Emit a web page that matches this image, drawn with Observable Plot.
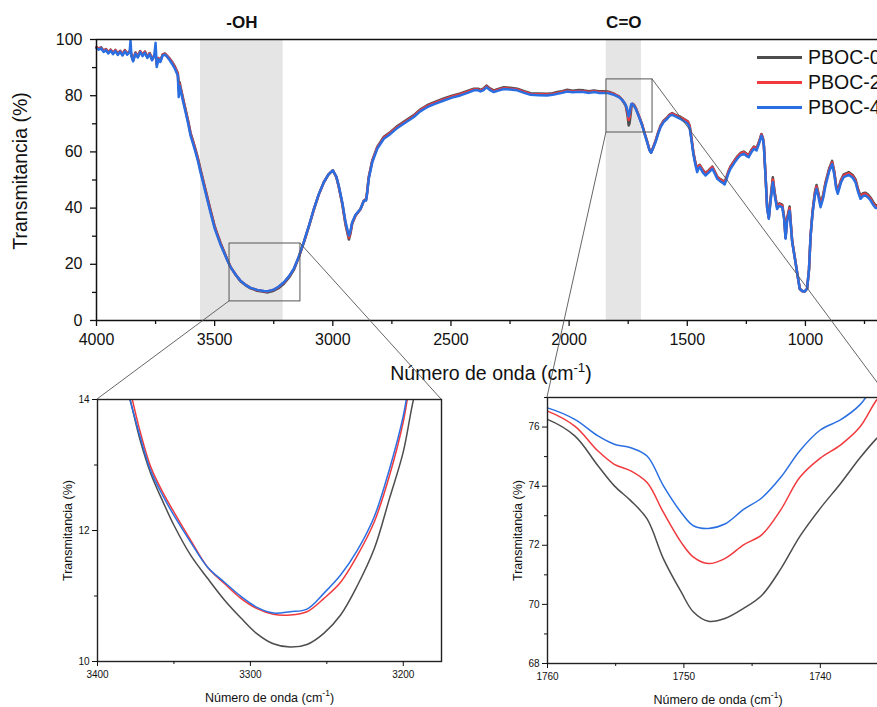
<!DOCTYPE html>
<html>
<head>
<meta charset="utf-8">
<script src="https://cdn.jsdelivr.net/npm/d3@7"></script>
<script src="https://cdn.jsdelivr.net/npm/@observablehq/plot@0.6"></script>
<style>
html, body { margin: 0; padding: 0; background: #fff; overflow: hidden; }
#wrap { position: relative; width: 877px; height: 707px; overflow: hidden; background: #fff;
  font-family: "Liberation Sans", Arial, sans-serif; }
#wrap > .abs { position: absolute; }
.legend { position: absolute; left: 757px; top: 45px; white-space: nowrap; font-size: 19.5px; color: #111; }
.legend .row { display: flex; align-items: center; height: 25px; }
.legend .sw { width: 45px; height: 3px; margin-right: 6px; }
</style>
</head>
<body>
<div id="wrap"></div>
<script>
// ---------------- DATA ----------------
const seriesNames = ["PBOC-0", "PBOC-2", "PBOC-4"];
const seriesColors = ["#4d4d4d", "#f03a3e", "#2a6fe2"];

const wavenumbers = [4000,3990,3980,3970,3960,3950,3940,3930,3920,3910,3900,3890,3880,3870,3860,3856,3852,3845,3835,3825,3815,3805,3795,3785,3775,3765,3756,3750,3745,3738,3730,3720,3710,3700,3690,3680,3668,3656,3652,3648,3645,3635,3623,3612,3602,3590,3581,3570,3560,3539,3518,3500,3489,3475,3461,3447,3433,3410,3391,3370,3348,3320,3292,3275,3250,3230,3207,3185,3165,3145,3123,3100,3080,3060,3038,3018,3000,2985,2975,2960,2946,2932,2925,2918,2904,2883,2869,2859,2855,2848,2833,2812,2784,2756,2730,2700,2657,2630,2601,2565,2530,2495,2460,2430,2403,2385,2375,2362,2350,2335,2319,2300,2276,2250,2220,2190,2163,2130,2093,2070,2050,2030,2008,1985,1960,1938,1915,1895,1875,1853,1840,1825,1808,1790,1778,1768,1760,1752,1748,1744,1740,1736,1731,1726,1718,1712,1700,1691,1680,1670,1660,1653,1645,1634,1623,1613,1600,1585,1575,1564,1550,1540,1529,1515,1498,1490,1482,1474,1465,1458,1452,1447,1435,1423,1410,1394,1384,1373,1360,1350,1342,1335,1325,1317,1300,1289,1275,1261,1250,1240,1228,1218,1207,1196,1186,1180,1176,1168,1162,1155,1148,1138,1130,1120,1110,1098,1090,1084,1078,1067,1062,1056,1042,1035,1024,1014,1004,993,985,978,970,960,953,945,936,925,915,900,887,878,870,863,850,838,816,800,788,778,767,756,746,735,724,712,703,695];

const pboc4 = [96.9,96.4,96.8,95.6,96.2,95.0,96.0,94.8,95.9,94.5,95.6,94.3,95.8,94.6,95.4,99.6,94.0,92.2,95.0,93.6,95.5,94.1,95.3,93.4,94.8,92.6,94.0,98.8,90.2,93.0,92.0,94.3,94.6,93.7,92.6,91.3,89.5,87.2,79.5,83.5,82.4,78.5,74.1,70.0,65.8,62.5,59.9,56.5,52.8,45.7,38.5,32.8,30.2,27.0,24.3,21.5,19.0,16.2,14.2,12.7,11.6,10.9,10.5,10.4,11.0,12.0,13.6,15.8,18.4,22.5,27.9,34.0,39.7,44.8,49.2,52.0,53.4,51.2,48.0,42.1,35.0,30.2,32.0,35.0,37.6,39.7,42.5,42.7,45.0,50.4,56.3,61.1,64.7,66.4,68.3,70.0,72.4,74.4,75.9,77.2,78.3,79.3,80.1,81.0,81.9,81.9,81.5,82.0,83.0,82.0,81.3,81.8,82.4,82.2,81.9,81.0,80.3,80.2,80.1,80.3,80.7,81.0,81.5,81.2,81.4,81.3,81.0,81.3,81.0,81.0,81.0,80.7,80.2,79.5,78.7,77.7,76.65,74.5,72.6,73.7,76.0,77.1,77.0,76.5,75.3,74.1,71.5,69.4,66.2,63.5,60.6,59.7,61.2,63.5,66.5,68.8,70.6,71.8,72.8,73.2,72.6,72.2,71.8,71.0,70.0,68.5,64.0,59.0,55.2,52.8,54.2,54.6,52.8,51.6,52.6,54.0,52.3,50.4,49.5,49.0,48.4,50.0,52.5,54.0,56.2,57.5,58.8,59.3,58.6,58.1,60.0,61.1,60.5,63.0,65.8,64.5,62.3,50.0,40.0,36.2,42.0,49.2,44.5,39.7,40.8,40.3,36.0,29.1,35.0,39.1,34.0,27.9,20.7,17.0,11.3,10.5,10.3,11.3,18.0,30.2,38.0,44.5,46.9,44.0,40.3,43.5,48.0,53.0,55.7,52.0,47.0,45.1,49.0,51.0,51.8,50.8,49.2,46.0,43.3,44.3,44.5,43.8,42.7,41.0,40.0,40.0];

const pboc2 = [97.2,96.7,97.0,95.9,96.5,95.3,96.3,95.1,96.2,94.8,95.9,94.6,96.1,94.9,95.7,96.0,94.3,92.5,95.3,93.9,95.8,94.4,95.6,93.7,95.1,92.9,94.3,95.0,91.0,93.3,92.3,94.6,94.9,94.0,93.0,91.8,90.0,87.8,82.0,84.2,83.0,79.1,74.7,70.6,66.4,63.1,60.5,57.1,53.4,46.3,39.1,33.3,30.6,27.3,24.5,21.7,19.1,16.2,14.2,12.75,11.6,10.85,10.45,10.35,10.95,11.9,13.5,15.7,18.3,22.4,27.8,33.9,39.6,44.7,49.2,52.0,53.4,51.1,47.8,41.8,34.5,29.5,31.5,34.7,37.4,39.6,42.5,43.0,45.3,50.8,56.7,61.5,65.1,66.8,68.7,70.4,72.8,74.8,76.3,77.6,78.7,79.7,80.5,81.4,82.2,82.2,81.8,82.3,83.3,82.3,81.6,82.1,82.7,82.5,82.2,81.3,80.6,80.5,80.4,80.6,81.0,81.3,81.8,81.5,81.7,81.6,81.3,81.6,81.3,81.3,81.3,81.0,80.5,79.7,78.8,77.7,76.54,73.6,71.4,72.5,75.1,76.9,77.1,76.7,75.5,74.3,71.7,69.6,66.4,63.7,60.7,59.8,61.4,63.8,66.8,69.1,70.9,72.1,73.1,73.6,73.0,72.6,72.3,71.6,70.7,69.2,64.6,59.6,55.8,53.6,54.9,55.2,53.5,52.3,53.2,54.6,52.9,51.0,50.1,49.6,49.1,50.6,53.1,54.6,56.8,58.1,59.4,59.9,59.2,58.7,60.6,61.7,61.1,63.5,66.2,64.8,62.5,50.2,40.2,36.5,42.6,50.2,45.2,40.3,41.4,40.9,36.5,29.4,35.8,40.0,34.5,28.2,20.8,17.0,11.3,10.5,10.3,11.3,18.0,30.3,38.4,45.2,47.6,44.8,41.1,44.2,48.7,53.6,56.3,52.7,47.7,45.8,49.6,51.6,52.4,51.4,49.8,46.6,43.9,44.9,45.1,44.4,43.3,41.6,40.6,40.6];

const pboc0 = [97.3,96.8,97.2,96.0,96.6,95.4,96.4,95.2,96.3,94.9,96.0,94.7,96.2,95.0,95.8,96.0,94.4,92.6,95.4,94.0,95.9,94.5,95.7,93.8,95.2,93.0,94.4,95.0,91.2,93.4,92.4,94.7,95.0,94.1,93.2,92.0,90.3,88.1,84.5,84.8,83.4,79.5,75.1,71.0,66.8,63.5,60.9,57.5,53.8,46.7,39.5,33.6,30.9,27.6,24.7,21.8,19.1,16.1,14.0,12.6,11.45,10.6,10.2,10.0,10.6,11.5,13.1,15.3,18.0,22.2,27.6,33.8,39.5,44.7,49.2,52.0,53.4,51.0,47.6,41.4,34.0,28.8,31.0,34.4,37.3,39.6,42.6,43.3,45.6,51.1,57.0,61.8,65.4,67.1,69.0,70.7,73.1,75.1,76.6,77.9,79.0,80.0,80.8,81.7,82.5,82.5,82.1,82.6,83.6,82.6,81.9,82.4,83.0,82.8,82.5,81.6,80.9,80.8,80.7,80.9,81.3,81.6,82.1,81.8,82.0,81.9,81.6,81.9,81.6,81.6,81.5,81.2,80.6,79.8,78.8,77.5,76.26,72.5,69.4,70.3,73.1,76.3,77.1,76.8,75.6,74.4,71.8,69.7,66.5,63.8,60.8,59.8,61.5,64.0,67.0,69.3,71.1,72.3,73.3,73.8,73.2,72.8,72.5,71.8,70.9,69.4,64.8,59.8,56.0,53.8,55.1,55.4,53.7,52.5,53.4,54.8,53.1,51.2,50.3,49.8,49.3,50.8,53.3,54.8,57.0,58.3,59.6,60.1,59.4,58.9,60.8,61.9,61.3,63.7,66.4,65.0,62.6,50.3,40.3,36.7,43.0,51.0,45.6,40.6,41.7,41.2,36.7,29.5,36.3,40.6,34.8,28.3,20.8,17.0,11.3,10.5,10.3,11.3,18.0,30.4,38.7,45.7,48.2,45.4,41.7,44.7,49.2,54.0,56.8,53.1,48.1,46.2,50.0,52.0,52.8,51.8,50.2,47.0,44.3,45.3,45.5,44.8,43.7,42.0,41.0,41.0];

// shaded bands and zoom boxes (cm-1 / %)
const bandFrom = [3560, 1843];
const bandTo = [3210, 1694];
const bandLabels = ["-OH", "C=O"];
const boxX1 = [3437, 1842];
const boxX2 = [3137, 1647];
const boxY1 = [6.8, 66.9];
const boxY2 = [27.4, 85.8];

// main axes ticks
const mainMajorX = [4000, 3500, 3000, 2500, 2000, 1500, 1000];
const mainMinorX = [3750, 3250, 2750, 2250, 1750, 1250, 750];
const mainMajorY = [0, 20, 40, 60, 80, 100];
const mainMinorY = [10, 30, 50, 70, 90];

// -OH inset
const ohWavenumbers = [3385,3380,3372,3365,3357,3350,3339,3328,3317,3306,3296,3285,3274,3263,3252,3241,3230,3219,3209,3200,3193,3188];
const ohPboc0 = [14.5,14.12,13.37,12.86,12.43,12.08,11.62,11.27,10.94,10.66,10.43,10.27,10.22,10.26,10.43,10.71,11.16,11.72,12.49,13.20,14.03,14.4];
const ohPboc2 = [14.6,14.25,13.5,12.96,12.57,12.28,11.85,11.44,11.19,10.96,10.81,10.72,10.71,10.76,10.96,11.21,11.62,12.13,12.84,13.66,14.6,15.0];
const ohPboc4 = [14.5,14.1,13.42,12.9,12.52,12.23,11.82,11.44,11.21,10.99,10.83,10.74,10.76,10.80,11.04,11.32,11.70,12.21,12.94,13.75,14.7,15.1];
const ohMajorX = [3400, 3300, 3200];
const ohMinorX = [3350, 3250];
const ohMajorY = [10, 12, 14];
const ohMinorY = [11, 13];

// C=O inset
const coWavenumbers = [1760.5,1760,1758,1756.3,1755.1,1753.9,1752.7,1751.5,1750.2,1749.3,1748.2,1747,1745.6,1744.3,1742.9,1741.5,1740,1738.5,1737.1,1735.9,1735];
const coPboc0 = [76.32,76.26,75.70,74.69,74.01,73.51,72.89,71.54,70.42,69.74,69.43,69.52,69.87,70.3,71.2,72.3,73.25,74.1,74.95,75.6,76.0];
const coPboc2 = [76.6,76.54,76.03,75.19,74.74,74.52,74.12,73.11,72.10,71.60,71.38,71.55,72.02,72.35,73.2,74.3,74.95,75.4,76.0,76.9,77.4];
const coPboc4 = [76.7,76.65,76.26,75.70,75.42,75.30,75.02,74.01,73.11,72.66,72.57,72.72,73.22,73.6,74.3,75.2,75.9,76.25,76.75,77.5,78.0];
const coMajorX = [1760, 1750, 1740];
const coMinorX = [1755, 1745];
const coMajorY = [68, 70, 72, 74, 76];
const coMinorY = [69, 71, 73, 75, 77];

const xTitle = "Número de onda (cm-1)";
const yTitle = "Transmitancia (%)";

// ---------------- BUILD ----------------
const FONT = '"Liberation Sans", Arial, sans-serif';
const wrap = document.getElementById("wrap");
const fmt = d => `${d}`;

function long(xs, cols) {
  return cols.flatMap((vals, k) => xs.map((w, i) => ({w, t: vals[i], name: seriesNames[k]})));
}
function superscript(svg, fs) {
  svg.querySelectorAll("text").forEach(t => {
    if (t.textContent === xTitle) {
      const up = (fs * 0.42).toFixed(1);
      t.innerHTML = `Número de onda (cm<tspan dy="-${up}" font-size="${(fs*0.68).toFixed(1)}">-1</tspan><tspan dy="${up}">)</tspan>`;
    }
  });
}

const mainData = long(wavenumbers, [pboc0, pboc2, pboc4]);
const bands = bandFrom.map((f, i) => ({from: f, to: bandTo[i], label: bandLabels[i]}));
const boxes = boxX1.map((x, i) => ({x1: x, x2: boxX2[i], y1: boxY1[i], y2: boxY2[i]}));

const main = Plot.plot({
  width: 877, height: 390,
  marginLeft: 96, marginRight: 0, marginTop: 39, marginBottom: 70,
  style: {fontFamily: FONT, fontSize: "16px", color: "#111", background: "transparent", overflow: "visible"},
  x: {domain: [4000, 695], label: null},
  y: {domain: [0, 100], label: null},
  color: {domain: seriesNames, range: seriesColors},
  marks: [
    Plot.rect(bands, {x1: "from", x2: "to", fill: "#e5e5e5"}),
    Plot.line(mainData, {x: "w", y: "t", z: "name", stroke: "name", strokeWidth: 2.5, strokeLinejoin: "round"}),
    Plot.rect(boxes, {x1: "x1", x2: "x2", y1: "y1", y2: "y2", fill: "none", stroke: "#555", strokeWidth: 1}),
    Plot.ruleY([0, 100], {stroke: "#111", strokeWidth: 1.5}),
    Plot.ruleX([4000], {stroke: "#111", strokeWidth: 1.5}),
    Plot.axisX({ticks: mainMajorX, tickSize: 6, tickPadding: 7, tickFormat: fmt, label: null, strokeWidth: 1.3}),
    Plot.axisX({ticks: mainMinorX, tickSize: 4, tickFormat: () => "", label: null, strokeWidth: 1.3}),
    Plot.axisY({ticks: mainMajorY, tickSize: 6, tickPadding: 8, tickFormat: fmt, label: null, strokeWidth: 1.3}),
    Plot.axisY({ticks: mainMinorY, tickSize: 4, tickFormat: () => "", label: null, strokeWidth: 1.3}),
    Plot.text(bands, {x: d => (d.from + d.to) / 2, text: "label", frameAnchor: "top", lineAnchor: "middle", dy: -17, fontWeight: "bold", fontSize: 17}),
    Plot.text([xTitle], {frameAnchor: "bottom", lineAnchor: "middle", textAnchor: "middle", dx: 4, dy: 53, fontSize: 19.5}),
    Plot.text([yTitle], {frameAnchor: "left", lineAnchor: "middle", textAnchor: "middle", rotate: -90, dx: -76, dy: -9, fontSize: 19.5})
  ]
});
superscript(main, 19.5);
main.classList.add("abs");
main.style.left = "0px"; main.style.top = "0px";
wrap.appendChild(main);

function inset(xs, cols, xd, yd, mx, nx, my, ny, m) {
  const data = long(xs, cols);
  return Plot.plot({
    width: 420, height: 322,
    marginLeft: m[0], marginRight: m[1], marginTop: m[2], marginBottom: m[3],
    style: {fontFamily: FONT, fontSize: "10px", color: "#111", background: "transparent", overflow: "visible"},
    x: {domain: xd, label: null},
    y: {domain: yd, label: null},
    color: {domain: seriesNames, range: seriesColors},
    marks: [
      Plot.line(data, {x: "w", y: "t", z: "name", stroke: "name", strokeWidth: 1.5, curve: "catmull-rom", clip: true}),
      Plot.frame({stroke: "#222", strokeWidth: 1.4}),
      Plot.axisX({ticks: mx, tickSize: 5, tickPadding: 4, tickFormat: fmt, label: null}),
      Plot.axisX({ticks: nx, tickSize: 3, tickFormat: () => "", label: null}),
      Plot.axisY({ticks: my, tickSize: 5, tickPadding: 3, tickFormat: fmt, label: null}),
      Plot.axisY({ticks: ny, tickSize: 3, tickFormat: () => "", label: null}),
      Plot.text([xTitle], {frameAnchor: "bottom", lineAnchor: "middle", textAnchor: "middle", dy: 36, fontSize: 12.5}),
      Plot.text([yTitle], {frameAnchor: "left", lineAnchor: "middle", textAnchor: "middle", rotate: -90, dx: -30, fontSize: 12.5})
    ]
  });
}

const ohPos = {left: 40, top: 385};
const coPos = {left: 480, top: 385};
const oh = inset(ohWavenumbers, [ohPboc0, ohPboc2, ohPboc4], [3400, 3175], [10, 14],
  ohMajorX, ohMinorX, ohMajorY, ohMinorY, [57, 19, 14, 46]);
const co = inset(coWavenumbers, [coPboc0, coPboc2, coPboc4], [1760, 1735], [68, 77],
  coMajorX, coMinorX, coMajorY, coMinorY, [67, 12, 12, 44]);
[[oh, ohPos], [co, coPos]].forEach(([p, pos]) => {
  superscript(p, 12.5);
  p.classList.add("abs");
  p.style.left = pos.left + "px"; p.style.top = pos.top + "px";
  wrap.appendChild(p);
});

// legend
const legend = document.createElement("div");
legend.className = "legend";
seriesNames.forEach((n, i) => {
  const row = document.createElement("div");
  row.className = "row";
  row.innerHTML = `<span class="sw" style="background:${seriesColors[i]}"></span><span>${n}</span>`;
  legend.appendChild(row);
});
wrap.appendChild(legend);

// connector lines from zoom boxes to insets (through the plots' scales)
const mx = main.scale("x"), my = main.scale("y");
const ox = oh.scale("x"), oy = oh.scale("y");
const cx = co.scale("x"), cy = co.scale("y");
const links = [
  [mx.apply(boxes[0].x1), my.apply(boxes[0].y1), ohPos.left + ox.apply(3400), ohPos.top + oy.apply(14)],
  [mx.apply(boxes[0].x2), my.apply(boxes[0].y2), ohPos.left + ox.apply(3175), ohPos.top + oy.apply(14)],
  [mx.apply(boxes[1].x1), my.apply(boxes[1].y1), coPos.left + cx.apply(1760), coPos.top + cy.apply(77)],
  [mx.apply(boxes[1].x2), my.apply(boxes[1].y2), coPos.left + cx.apply(1735), coPos.top + cy.apply(77)]
];
const overlay = d3.create("svg").attr("width", 877).attr("height", 707)
  .attr("class", "abs").style("left", "0px").style("top", "0px").style("pointer-events", "none");
overlay.selectAll("line").data(links).join("line")
  .attr("x1", d => d[0]).attr("y1", d => d[1]).attr("x2", d => d[2]).attr("y2", d => d[3])
  .attr("stroke", "#555").attr("stroke-width", 0.9);
wrap.appendChild(overlay.node());
</script>
</body>
</html>
